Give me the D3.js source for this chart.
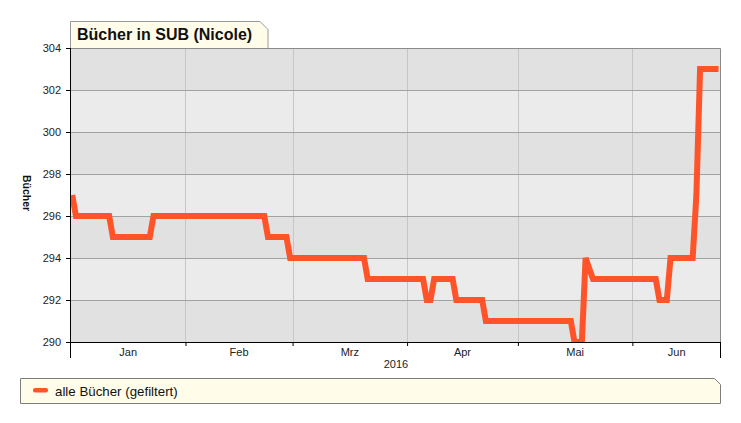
<!DOCTYPE html>
<html>
<head>
<meta charset="utf-8">
<script src="https://cdn.jsdelivr.net/npm/d3@7"></script>
<style>
  body { margin: 0; background: #fff; }
  text { font-family: Arial, "Liberation Sans", sans-serif; }
</style>
</head>
<body>
<div id="chart"></div>
<script>
// data (daily readings, taken in the morning)
const dates = ["2016-01-01", "2016-01-02", "2016-01-11", "2016-01-12", "2016-01-22", "2016-01-23",
    "2016-02-22", "2016-02-23", "2016-02-28", "2016-02-29", "2016-03-20", "2016-03-21",
    "2016-04-05", "2016-04-06", "2016-04-07", "2016-04-08", "2016-04-13", "2016-04-14",
    "2016-04-21", "2016-04-22", "2016-05-15", "2016-05-16", "2016-05-18", "2016-05-19",
    "2016-05-21", "2016-06-07", "2016-06-08", "2016-06-10", "2016-06-11", "2016-06-17",
    "2016-06-18", "2016-06-19", "2016-06-24"];
const values = [297, 296, 296, 295, 295, 296,
    296, 295, 295, 294, 294, 293,
    293, 292, 292, 293, 293, 292,
    292, 291, 291, 290, 290, 294,
    293, 293, 292, 292, 294, 294,
    297, 303, 303];
const yTicks = [290, 292, 294, 296, 298, 300, 302, 304];
const monthLabels = ["Jan", "Feb", "Mrz", "Apr", "Mai", "Jun"];
const yearLabel = "2016";
const chartTitle = "Bücher in SUB (Nicole)";
const yTitle = "Bücher";
const seriesName = "alle Bücher (gefiltert)";

function renderChart(){
    const W = 741, H = 423;
    const margin = { top: 48, right: 20, bottom: 81, left: 71 };
    const width = W - margin.left - margin.right;
    const height = H - margin.top - margin.bottom;
    const lineColor = "#ff5429";
    const ivory = "#fffde9";

    const svg = d3.select("#chart").append("svg")
        .attr("width", W).attr("height", H);

    const parse = d3.timeParse("%Y-%m-%d");
    // readings were logged around 8 o'clock
    const data = dates.map((d, i) => ({ date: d3.timeHour.offset(parse(d), 8), value: values[i] }));

    const x = d3.scaleTime()
        .domain([parse("2016-01-01"), parse("2016-06-25")])
        .range([0, width]);
    const y = d3.scaleLinear()
        .domain([290, 304])
        .range([height, 0]);

    // title tab
    const tw = 197, th = 27, cut = 8;
    svg.append("path")
        .attr("d", `M${margin.left - 0.5},${margin.top} V${margin.top - th + 0.5} H${margin.left + tw - cut} L${margin.left + tw},${margin.top - th + cut + 0.5} V${margin.top}`)
        .attr("fill", ivory).attr("stroke", "#9a9a9a");
    svg.append("text")
        .attr("x", margin.left + 6).attr("y", margin.top - 8)
        .attr("font-size", 16).attr("font-weight", "bold").attr("fill", "#111")
        .text(chartTitle);

    const g = svg.append("g")
        .attr("transform", `translate(${margin.left},${margin.top})`);

    // alternating bands
    const bands = d3.pairs(yTicks);
    g.selectAll(".band").data(bands).enter().append("rect")
        .attr("x", 0).attr("width", width)
        .attr("y", d => y(d[1])).attr("height", d => y(d[0]) - y(d[1]))
        .attr("fill", (d, i) => i % 2 === 0 ? "#e1e1e1" : "#ebebeb");

    // grid
    const months = x.ticks(d3.timeMonth.every(1));
    g.selectAll(".vgrid").data(months.slice(1)).enter().append("line")
        .attr("x1", d => Math.round(x(d)) + 0.5).attr("x2", d => Math.round(x(d)) + 0.5)
        .attr("y1", 0).attr("y2", height)
        .attr("stroke", "#c6c6c6");
    g.selectAll(".hgrid").data(yTicks.slice(1, -1)).enter().append("line")
        .attr("x1", 0).attr("x2", width)
        .attr("y1", d => Math.round(y(d)) + 0.5).attr("y2", d => Math.round(y(d)) + 0.5)
        .attr("stroke", "#a2a2a2");

    // frame top / right
    g.append("path")
        .attr("d", `M0,0.5 H${width - 0.5} V${height}`)
        .attr("fill", "none").attr("stroke", "#8a8a8a");

    // line
    g.append("clipPath").attr("id", "clip")
        .append("rect").attr("width", width).attr("height", height + 1);
    const line = d3.line().x(d => x(d.date)).y(d => y(d.value));
    g.append("path")
        .datum(data)
        .attr("clip-path", "url(#clip)")
        .attr("d", line)
        .attr("fill", "none")
        .attr("stroke", lineColor)
        .attr("stroke-width", 6)
        .attr("stroke-linejoin", "miter");

    // y axis
    const yAxis = g.append("g")
        .call(d3.axisLeft(y).tickValues(yTicks).tickSize(5).tickPadding(5).tickFormat(d3.format("d")));
    yAxis.select(".domain").remove();
    yAxis.selectAll(".tick line").attr("stroke", "#000");
    yAxis.selectAll(".tick text").attr("font-size", 11).attr("fill", "#222")
        .attr("font-family", "Arial, 'Liberation Sans', sans-serif");
    g.append("line").attr("x1", -0.5).attr("x2", -0.5).attr("y1", 0).attr("y2", height + 16)
        .attr("stroke", "#000");
    g.append("line").attr("x1", width - 0.5).attr("x2", width - 0.5).attr("y1", height).attr("y2", height + 16)
        .attr("stroke", "#000");

    // x axis
    const xAxis = g.append("g")
        .attr("transform", `translate(0,${height})`)
        .call(d3.axisBottom(x).tickValues(months.slice(1)).tickSize(4).tickFormat(""));
    xAxis.select(".domain").attr("d", `M0,0.5H${width}`).attr("stroke", "#000");
    xAxis.selectAll(".tick line").attr("stroke", "#000");

    const ends = months.concat([x.domain()[1]]);
    g.selectAll(".mlabel").data(monthLabels).enter().append("text")
        .attr("x", (d, i) => (x(ends[i]) + x(ends[i + 1])) / 2)
        .attr("y", height + 14)
        .attr("text-anchor", "middle").attr("font-size", 11).attr("fill", "#222")
        .text(d => d);
    g.append("text")
        .attr("x", width / 2).attr("y", height + 26)
        .attr("text-anchor", "middle").attr("font-size", 11).attr("fill", "#222")
        .text(yearLabel);

    // y title
    svg.append("text")
        .attr("transform", `translate(23,${margin.top + 145}) rotate(90)`)
        .attr("text-anchor", "middle")
        .attr("font-size", 10.5).attr("font-weight", "bold").attr("fill", "#111")
        .text(yTitle);

    // legend
    const lx = 20.5, ly = 378.5, lw = 700, lh = 25, lc = 6;
    svg.append("path")
        .attr("d", `M${lx},${ly} H${lx + lw - lc} L${lx + lw},${ly + lc} V${ly + lh} H${lx} Z`)
        .attr("fill", ivory).attr("stroke", "#7d7d7d");
    svg.append("rect")
        .attr("x", 33).attr("y", 388).attr("width", 15).attr("height", 4.5).attr("rx", 2)
        .attr("fill", lineColor);
    svg.append("text")
        .attr("x", 55).attr("y", 395.5)
        .attr("font-size", 13.3).attr("fill", "#111")
        .text(seriesName);
}
renderChart();
</script>
</body>
</html>
